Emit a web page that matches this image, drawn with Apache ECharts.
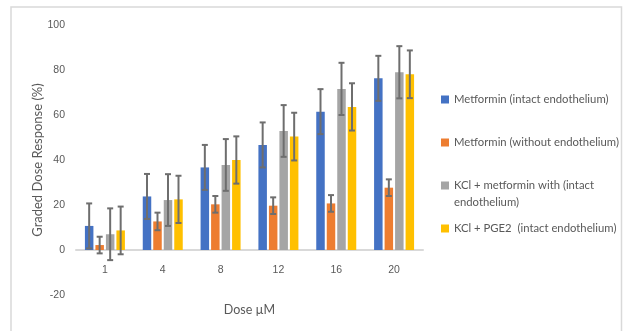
<!DOCTYPE html>
<html><head><meta charset="utf-8">
<script src="https://cdn.jsdelivr.net/npm/echarts@6/dist/echarts.min.js"></script>
<style>html,body{margin:0;padding:0;background:#fff}#c{width:626px;height:331px}</style>
</head><body><div id="c"></div>
<script>
const categories = ['1', '4', '8', '12', '16', '20'];
const seriesNames = ['Metformin (intact endothelium)', 'Metformin (without endothelium)', 'KCl + metformin with (intact endothelium)', 'KCl + PGE2  (intact endothelium)'];
const metforminIntact = [10.7, 23.8, 36.7, 46.7, 61.5, 76.3];
const metforminWithout = [2.2, 12.7, 20.3, 19.7, 20.7, 27.7];
const kclMetformin = [7.0, 22.2, 37.8, 52.9, 71.6, 79.0];
const kclPge2 = [8.7, 22.5, 40.0, 50.4, 63.6, 78.1];
const errMetforminIntact = [10, 10, 10, 10, 10, 10];
const errMetforminWithout = [3.7, 3.9, 3.7, 3.7, 3.7, 3.7];
const errKclMetformin = [11.5, 11.5, 11.5, 11.5, 11.6, 11.6];
const errKclPge2 = [10.6, 10.5, 10.5, 10.6, 10.5, 10.6];
const yTicks = [-20, 0, 20, 40, 60, 80, 100];

const values = [metforminIntact, metforminWithout, kclMetformin, kclPge2];
const errors = [errMetforminIntact, errMetforminWithout, errKclMetformin, errKclPge2];
const colors = ['#4472C4', '#ED7D31', '#A5A5A5', '#FFC000'];
const BW = 8.5, GAP = 2;
const FONT = 'Liberation Sans';
const NARROW = 'Lato';
const txt = '#595959';

const series = [];
values.forEach((v, i) => {
  series.push({
    name: seriesNames[i], type: 'bar', data: v, barWidth: BW, barGap: (GAP / BW * 100) + '%',
    barCategoryGap: '31%', itemStyle: { color: colors[i] }, z: 2
  });
});
values.forEach((v, i) => {
  const offset = -(4 * BW + 3 * GAP) / 2 + BW / 2 + i * (BW + GAP);
  series.push({
    type: 'custom', z: 5, silent: true,
    data: v.map((val, k) => [k, val - errors[i][k], val + errors[i][k]]),
    encode: { x: 0, y: [1, 2] },
    renderItem: function (params, api) {
      const lo = api.coord([api.value(0), api.value(1)]);
      const hi = api.coord([api.value(0), api.value(2)]);
      const x = lo[0] + offset;
      const c = 3;
      const st = { stroke: '#6e6e6e', lineWidth: 2 };
      return { type: 'group', children: [
        { type: 'line', shape: { x1: x, y1: lo[1], x2: x, y2: hi[1] }, style: st },
        { type: 'line', shape: { x1: x - c, y1: lo[1], x2: x + c, y2: lo[1] }, style: st },
        { type: 'line', shape: { x1: x - c, y1: hi[1], x2: x + c, y2: hi[1] }, style: st }
      ]};
    }
  });
});

const legendTops = [91, 134, 160, 220];
const legends = seriesNames.map((n, i) => ({
  data: [n], left: 441, top: legendTops[i], orient: 'vertical', padding: 0,
  itemWidth: 8, itemHeight: 8, itemGap: 4, icon: 'rect',
  formatter: function (name) { return i === 2 ? '\nKCl + metformin with (intact\nendothelium)' : name; },
  textStyle: { fontFamily: NARROW, fontSize: 11.3, color: txt, lineHeight: 17 }
}));

const chart = echarts.init(document.getElementById('c'), null, { renderer: 'canvas' });
chart.setOption({
  animation: false,
  backgroundColor: '#fff',
  graphic: [{ type: 'rect', shape: { x: 11, y: 7, width: 610.5, height: 340 }, style: { fill: 'none', stroke: '#d9d9d9', lineWidth: 1.5 }, silent: true }],
  grid: { left: 76, right: 203, top: 25, bottom: 36, containLabel: false, outerBoundsMode: 'none' },
  legend: legends,
  xAxis: {
    type: 'category', data: categories,
    name: 'Dose µM', nameLocation: 'middle', nameGap: 8, nameMoveOverlap: false,
    nameTextStyle: { fontFamily: NARROW, fontSize: 12.5, color: txt },
    axisLine: { lineStyle: { color: '#d9d9d9', width: 2 } },
    axisTick: { show: false },
    axisLabel: { fontFamily: FONT, fontSize: 10.5, color: txt, margin: -30 }
  },
  yAxis: {
    type: 'value', min: yTicks[0], max: yTicks[yTicks.length - 1], interval: 20,
    name: 'Graded Dose Response (%)', nameLocation: 'middle', nameGap: 32, nameRotate: 90, nameMoveOverlap: false,
    nameTextStyle: { fontFamily: NARROW, fontSize: 13, color: txt },
    axisLine: { show: false }, axisTick: { show: false }, splitLine: { show: false },
    axisLabel: { fontFamily: FONT, fontSize: 10.5, color: txt, margin: 11 }
  },
  series: series
});
</script></body></html>
